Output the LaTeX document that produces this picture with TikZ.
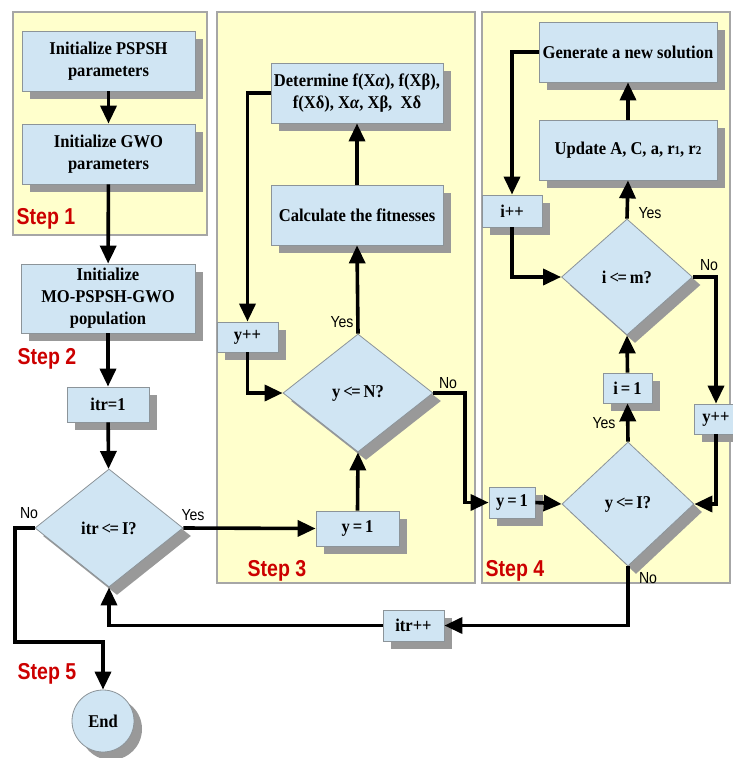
\documentclass[tikz,border=0pt]{standalone}
\usepackage{fontspec}
\setmainfont{Liberation Serif}
\newfontfamily\boxfont[FakeStretch=0.92]{Liberation Serif}
\newfontfamily\labfont[FakeStretch=0.88]{Liberation Sans}
\newfontfamily\stepfont[FakeStretch=0.85]{Liberation Sans}
\usetikzlibrary{arrows.meta,shapes.geometric,shadows}
\definecolor{panelfill}{HTML}{FFFFCC}
\definecolor{panelline}{HTML}{A6A6A6}
\definecolor{boxfill}{HTML}{D0E5F3}
\definecolor{boxline}{HTML}{8C9499}
\definecolor{shadowgray}{HTML}{999999}
\definecolor{stepred}{HTML}{CC0000}
\tikzset{
  panel/.style={fill=panelfill, draw=panelline, line width=1.2pt},
  shad/.style={drop shadow={shadow xshift=8pt, shadow yshift=-8pt, fill=shadowgray, opacity=1}},
  box/.style={rectangle, fill=boxfill, draw=boxline, line width=0.8pt, shad, inner sep=0pt, align=center,
    font=\boxfont\bfseries\fontsize{18}{22}\selectfont},
  dia/.style={diamond, fill=boxfill, draw=boxline, line width=0.8pt, shad, inner sep=0pt, align=center,
    font=\boxfont\bfseries\fontsize{18}{22}\selectfont},
  term/.style={circle, fill=boxfill, draw=boxline, line width=0.8pt, shad, inner sep=0pt,
    minimum size=62pt, font=\boxfont\bfseries\fontsize{18}{22}\selectfont},
  flow/.style={line width=3.6pt, -{Triangle[length=18pt,width=16pt]}},
  yn/.style={font=\labfont\fontsize{16}{16}\selectfont, inner sep=0pt},
  steplab/.style={font=\stepfont\bfseries\fontsize{23}{23}\selectfont, text=stepred, inner sep=0pt},
}
\newcommand{\leqq}{<\kern-1.5pt=}
\begin{document}
\begin{tikzpicture}[x=1pt,y=-1pt]
\useasboundingbox (0,0) rectangle (733,758);
% panels
\draw[panel] (13,12) rectangle (207,235);
\draw[panel] (217,12) rectangle (475,583);
\draw[panel] (482,12) rectangle (730,583);
% step labels
\node[steplab] (s1) at (46,219) {Step 1};
\node[steplab] (s2) at (47,359) {Step 2};
\node[steplab] (s3) at (277,571) {Step 3};
\node[steplab] (s4) at (515,571) {Step 4};
\node[steplab] (s5) at (47,674) {Step 5};
% left column
\node[box, minimum width=173pt, minimum height=60pt] (b1) at (108.5,61) {Initialize PSPSH\\parameters};
\node[box, minimum width=173pt, minimum height=60pt] (b2) at (108.5,154) {Initialize GWO\\parameters};
\node[box, minimum width=174pt, minimum height=69pt] (b3) at (108,298.5) {Initialize\\MO-PSPSH-GWO\\population};
\node[box, minimum width=82pt, minimum height=35pt] (itr1) at (108,404.5) {itr=1};
\node[dia, minimum width=148pt, minimum height=118pt] (d1) at (109,528) {itr\,\leqq\,I?};
\node[term] (end) at (103,721) {End};
% step 3
\node[box, minimum width=172pt, minimum height=60pt] (det) at (357,93) {Determine f(X\textit{α}), f(Xβ),\\f(Xδ), X\textit{α}, Xβ,\ \ Xδ};
\node[box, minimum width=172pt, minimum height=60pt] (calc) at (357,215) {Calculate the fitnesses};
\node[box, minimum width=61pt, minimum height=30pt] (ypp1) at (247.5,337) {y++};
\node[dia, minimum width=150pt, minimum height=118pt] (d2) at (358,393) {y\,\leqq\,N?};
\node[box, minimum width=83pt, minimum height=35pt] (y1a) at (357.5,528.5) {y\,=\,1};
% step 4
\node[box, minimum width=178pt, minimum height=60pt] (gen) at (628,52) {Generate a new solution};
\node[box, minimum width=178pt, minimum height=60pt] (upd) at (628,150) {Update A, C, a, r{\fontsize{12}{12}\selectfont 1}, r{\fontsize{12}{12}\selectfont 2}};
\node[box, minimum width=60pt, minimum height=32pt] (ipp) at (512,211) {i++};
\node[dia, minimum width=131pt, minimum height=116pt] (d4) at (627,277) {i\,\leqq\,m?};
\node[box, minimum width=49pt, minimum height=30pt] (i1) at (627.5,388) {i\,=\,1};
\node[box, minimum width=44pt, minimum height=30pt] (ypp2) at (716,419) {y++};
\node[dia, minimum width=132pt, minimum height=124pt] (d3) at (628,504) {y\,\leqq\,I?};
\node[box, minimum width=46pt, minimum height=31pt] (y1b) at (512,502.5) {y\,=\,1};
\node[box, minimum width=61pt, minimum height=31pt] (itrpp) at (413.5,625.5) {itr++};
% coordinates
\coordinate (c1) at (465,393);
\coordinate (c2) at (15,642);
% connectors
\draw[flow] (b1) -- (b2);
\draw[flow] (b2) -- (b3);
\draw[flow] (b3) -- (itr1);
\draw[flow] (itr1) -- (d1);
\draw[flow] (d1.east) -- (y1a.west);
\draw[flow] (y1a.north) -- (d2.south);
\draw[flow] (d2.north) -- (calc.south);
\draw[flow] (calc.north) -- (det.south);
\draw[flow] (det.west) -| (ypp1.north);
\draw[flow] (ypp1.south) |- (d2.west);
\draw[flow] (d2.east) -- (c1) |- (y1b.west);
\draw[flow] (y1b.east) -- (d3.west);
\draw[flow] (d3.north) -- (i1.south);
\draw[flow] (i1.north) -- (d4.south);
\draw[flow] (d4.north) -- (upd.south);
\draw[flow] (upd.north) -- (gen.south);
\draw[flow] (gen.west) -| (ipp.north);
\draw[flow] (ipp.south) |- (d4.west);
\draw[flow] (d4.east) -| (ypp2.north);
\draw[flow] (ypp2.south) |- (d3.east);
\draw[flow] (d3.south) |- (itrpp.east);
\draw[flow] (itrpp.west) -| (d1.south);
\draw[flow] (d1.west) -| (c2) -| (end.north);
% yes/no labels
\node[yn] (l1) at (193,515) {Yes};
\node[yn] (l2) at (29,513) {No};
\node[yn] (l3) at (342,322) {Yes};
\node[yn] (l4) at (448,383) {No};
\node[yn] (l5) at (650,213) {Yes};
\node[yn] (l6) at (709,265) {No};
\node[yn] (l7) at (604,423) {Yes};
\node[yn] (l8) at (648,578) {No};
\end{tikzpicture}
\end{document}
